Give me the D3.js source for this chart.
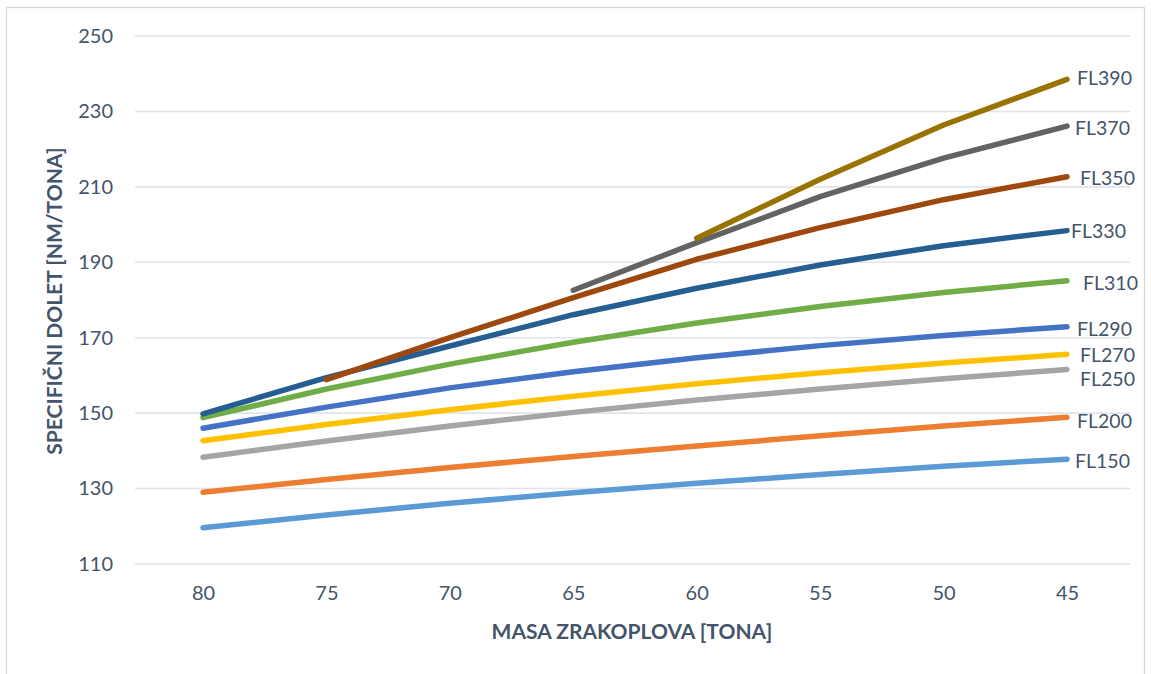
<!DOCTYPE html>
<html>
<head>
<meta charset="utf-8">
<script src="https://cdn.jsdelivr.net/npm/d3@7"></script>
<style>
  html, body { margin: 0; padding: 0; background: #fff; }
  svg { display: block; font-family: Lato, "Open Sans", sans-serif; }
</style>
</head>
<body>
<svg id="chart" width="1151" height="674"></svg>
<script>
const categories = [80, 75, 70, 65, 60, 55, 50, 45];
const yTicks = [110, 130, 150, 170, 190, 210, 230, 250];
const seriesNames = ["FL150", "FL200", "FL250", "FL270", "FL290", "FL310", "FL330", "FL350", "FL370", "FL390"];
const FL150 = [119.6, 123.0, 126.1, 128.9, 131.4, 133.7, 135.9, 137.8];
const FL200 = [129.0, 132.4, 135.6, 138.5, 141.3, 144.0, 146.6, 148.9];
const FL250 = [138.3, 142.6, 146.6, 150.2, 153.5, 156.4, 159.1, 161.6];
const FL270 = [142.7, 147.0, 150.9, 154.5, 157.8, 160.7, 163.3, 165.6];
const FL290 = [146.0, 151.6, 156.7, 161.0, 164.7, 167.9, 170.6, 172.9];
const FL310 = [148.8, 156.4, 163.0, 168.8, 173.9, 178.3, 182.0, 185.1];
const FL330 = [149.8, 159.4, 167.8, 176.1, 183.1, 189.3, 194.4, 198.4];
const FL350 = [null, 158.9, 170.0, 180.6, 190.8, 199.2, 206.6, 212.7];
const FL370 = [null, null, null, 182.6, 195.2, 207.4, 217.6, 226.1];
const FL390 = [null, null, null, null, 196.4, 212.0, 226.4, 238.5];
const colors = ["#5B9BD5", "#ED7D31", "#A5A5A5", "#FFC000", "#4472C4", "#70AD47", "#255E91", "#9E480E", "#636363", "#997300"];
const values = [FL150, FL200, FL250, FL270, FL290, FL310, FL330, FL350, FL370, FL390];
// manual label offsets (dx, dy) relative to last point, as in the original
const labelOffsets = [[8, 2], [10, 4], [13, 10], [13, 1], [10, 2], [16, 2], [4, 1], [13, 2], [8, 2], [10, -1]];

const svg = d3.select("#chart");
const textColor = "#44546A";

// outer border
svg.append("rect").attr("x", 6.5).attr("y", 7.5).attr("width", 1138).attr("height", 672)
  .attr("fill", "none").attr("stroke", "#D9D9D9").attr("stroke-width", 1.3);

const x = d3.scalePoint().domain(categories).range([203, 1067]);
const y = d3.scaleLinear().domain([110, 250]).range([564, 36]);

// gridlines
svg.append("g").selectAll("line").data(yTicks).join("line")
  .attr("x1", 135).attr("x2", 1130)
  .attr("y1", d => y(d)).attr("y2", d => y(d))
  .attr("stroke", "#E1E4E9").attr("stroke-width", 1.6);

// y axis
const yAxis = svg.append("g").attr("transform", "translate(113,0)")
  .call(d3.axisLeft(y).tickValues(yTicks).tickSize(0).tickPadding(0));
yAxis.select(".domain").remove();
yAxis.selectAll("text").attr("font-size", 20).attr("fill", textColor)
  .attr("font-family", "Lato, sans-serif");

// x axis
const xAxis = svg.append("g").attr("transform", "translate(0,586)")
  .call(d3.axisBottom(x).tickSize(0).tickPadding(0));
xAxis.select(".domain").remove();
xAxis.selectAll("text").attr("font-size", 20).attr("fill", textColor)
  .attr("font-family", "Lato, sans-serif");

// lines
const line = d3.line()
  .defined(d => d.v !== null)
  .x(d => x(d.c)).y(d => y(d.v));

values.forEach((vals, i) => {
  const pts = categories.map((c, j) => ({ c, v: vals[j] }));
  svg.append("path").datum(pts)
    .attr("d", line)
    .attr("fill", "none")
    .attr("stroke", colors[i])
    .attr("stroke-width", 5.5)
    .attr("stroke-linecap", "round")
    .attr("stroke-linejoin", "round");
});

// labels
values.forEach((vals, i) => {
  const last = vals.length - 1;
  svg.append("text")
    .attr("x", x(categories[last]) + labelOffsets[i][0])
    .attr("y", y(vals[last]) + labelOffsets[i][1])
    .attr("dy", "0.35em")
    .attr("font-size", 19.5)
    .attr("fill", textColor)
    .text(seriesNames[i]);
});

// axis titles
svg.append("text")
  .attr("x", 632).attr("y", 632).attr("dy", "0.35em")
  .attr("text-anchor", "middle")
  .attr("font-size", 21).attr("font-weight", "bold").attr("fill", textColor)
  .text("MASA ZRAKOPLOVA [TONA]");

svg.append("text")
  .attr("transform", "translate(55,301) rotate(-90)")
  .attr("dy", "0.35em")
  .attr("text-anchor", "middle")
  .attr("font-size", 21).attr("font-weight", "bold").attr("fill", textColor)
  .text("SPECIFIČNI DOLET [NM/TONA]");
</script>
</body>
</html>
